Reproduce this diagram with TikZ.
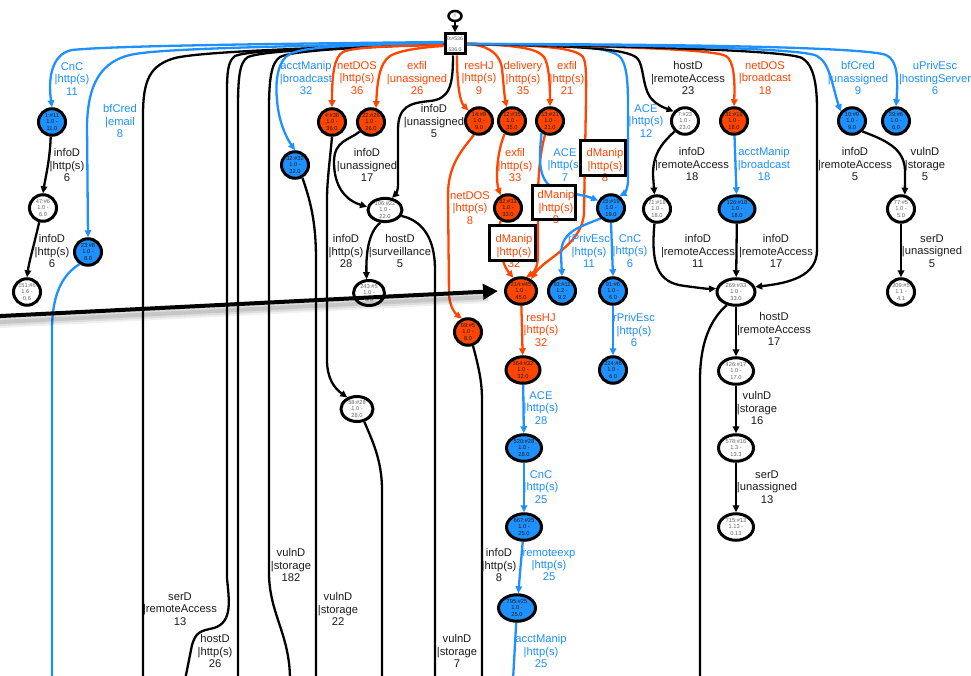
\documentclass[tikz,border=0pt]{standalone}
\usepackage{fontspec}
\setmainfont{Liberation Sans}
\usetikzlibrary{shapes.geometric,arrows.meta}
\definecolor{gvblue}{HTML}{1E90FF}
\definecolor{gvorange}{HTML}{FF4500}
\definecolor{inkdark}{HTML}{1C1C1C}
\pgfdeclarelayer{paper}
\pgfdeclarelayer{wires}
\pgfsetlayers{paper,wires,main}
\tikzset{
  gstate/.style={ellipse, draw=black, line width=3pt, inner sep=0pt,
    minimum width=27pt, minimum height=26.5pt, align=center,
    font=\fontsize{5.7}{6.2}\selectfont},
  sblue/.style={gstate, fill=gvblue, text=inkdark},
  sred/.style={gstate, fill=gvorange, text=inkdark},
  swhite/.style={gstate, fill=white, text=black!60},
  wid/.style={minimum width=#1},
  tipend/.style={-{Triangle[length=7pt,width=6.5pt]}},
  wire/.style={line width=2.3pt},
  ek/.style={wire, tipend, draw=black},
  eb/.style={wire, tipend, draw=gvblue},
  eo/.style={wire, tipend, draw=gvorange},
  ekfree/.style={wire, draw=black},
  ebfree/.style={wire, draw=gvblue},
  lab/.style={align=center, inner sep=0pt, font=\fontsize{11.2}{12.4}\selectfont},
  labk/.style={lab, text=inkdark},
  labb/.style={lab, text=gvblue},
  labo/.style={lab, text=gvorange},
  hbox/.style={fill=white, inner sep=0pt, outer sep=0pt},
}
\begin{document}
\begin{tikzpicture}[x=1pt, y=-1pt]
\useasboundingbox (0,0) rectangle (971,676);
\begin{pgfonlayer}{paper}
\fill[white] (0,0) rectangle (971,676);
\end{pgfonlayer}

% ---------- states ----------
\node[ellipse, draw, line width=2.5pt, inner sep=0pt, minimum width=13pt,
      minimum height=10pt, font=\fontsize{5}{5}\selectfont] (top) at (455,16) {!};
\node[draw, line width=3pt, fill=white, minimum width=20pt, minimum height=20pt,
      inner sep=0pt, align=center, text=black!65,
      font=\fontsize{5.2}{5.5}\selectfont] (root) at (455,44) {0:\#536\\[5pt]536.0};

\node[sblue]  (n1)   at (52,122)  {1:\#11\\1.0 -\\11.0};
\node[sred]   (n4)   at (332,122) {4:\#36\\1.0 -\\36.0};
\node[sred]   (n22)  at (371,122) {22:\#26\\1.0 -\\26.0};
\node[sred]   (n14)  at (479,121) {14:\#9\\1.0 -\\9.0};
\node[sred]   (n12)  at (512,121) {12:\#35\\1.0 -\\35.0};
\node[sred]   (n13)  at (550,121) {13:\#21\\1.0 -\\21.0};
\node[swhite] (n7)   at (685,121) {7:\#23\\1.0 -\\23.0};
\node[sred]   (n31)  at (734,121) {31:\#18\\1.0 -\\18.0};
\node[sblue]  (n10)  at (852,121) {10:\#9\\1.0 -\\9.0};
\node[sblue]  (n29)  at (896,121) {29:\#6\\1.0 -\\6.0};

\node[sblue]  (n32)  at (295,165) {32:\#32\\1.0 -\\32.0};
\node[swhite] (n47)  at (43,208)  {47:\#6\\1.0 -\\6.0};
\node[sblue]  (n23)  at (88,252)  {23:\#8\\1.0 -\\8.0};
\node[swhite] (n151) at (27,292)  {151:\#6\\1.6 -\\0.6};
\node[swhite, minimum width=34pt, minimum height=23pt] (n106) at (385,210) {106:\#22\\1.0 -\\22.0};
\node[swhite, wid=31pt, minimum height=25pt] (n243) at (369,293) {243:\#5\\1.0 -\\5.0};
\node[sred]   (n82)  at (508,208) {82:\#33\\1.0 -\\33.0};
\node[sblue]  (n15)  at (611,208) {15:\#19\\1.0 -\\19.0};
\node[swhite] (n71)  at (657,209) {71:\#18\\1.0 -\\18.0};
\node[sblue, wid=36pt] (n126) at (737,209) {126:\#18\\1.0 -\\18.0};
\node[swhite] (n77)  at (901,209) {77:\#5\\1.0 -\\5.0};

\node[sred, wid=31pt] (n214) at (521,291) {214:\#45\\1.0 -\\45.0};
\node[sblue]  (n93)  at (562,291) {93:\#11\\1.2 -\\9.2};
\node[sblue]  (n91)  at (613,291) {91:\#6\\1.0 -\\6.0};
\node[swhite, wid=38pt] (n269) at (736,292) {269:\#33\\1.0 -\\33.0};
\node[swhite] (n209) at (901,292) {209:\#5\\1.1 -\\4.1};
\node[sred]   (n69)  at (468,332) {69:\#5\\1.0 -\\8.0};
\node[sred, wid=34pt]  (n364) at (523,370) {364:\#32\\1.0 -\\32.0};
\node[sblue]  (n224) at (613,370) {224:\#6\\1.0 -\\6.0};
\node[swhite, wid=35pt] (n426) at (736,371) {426:\#17\\1.0 -\\17.0};
\node[swhite, wid=32pt, minimum height=25pt] (n58) at (357,409) {58:\#28\\1.0 -\\28.0};
\node[sblue, wid=35pt] (n520) at (524,448) {520:\#28\\1.0 -\\28.0};
\node[swhite, wid=35pt] (n578) at (736,448) {578:\#16\\1.3 -\\13.3};
\node[sblue, wid=35pt] (n667) at (524,527) {667:\#25\\1.0 -\\25.0};
\node[swhite, wid=35pt] (n715) at (736,527) {715:\#13\\1.13 -\\0.13};
\node[sblue, wid=37pt] (n795) at (517,608) {795:\#25\\1.0 -\\25.0};

% loose ends below the frame
\coordinate (b23)  at (52,680);
\coordinate (bL1)  at (143,680);
\coordinate (bL2)  at (185,680);
\coordinate (bL3)  at (238,680);
\coordinate (bL4)  at (290,680);
\coordinate (b32)  at (316,680);
\coordinate (b58)  at (382,680);
\coordinate (b106) at (435,680);
\coordinate (b69)  at (482,680);
\coordinate (b795) at (513,680);
\coordinate (b269) at (700,680);
\coordinate (ptr)  at (-3,316.2);

% ---------- transitions ----------
\begin{pgfonlayer}{wires}
\draw[ek] (top) -- (root);

% leaving the root to the left
\draw[eb] ([yshift=2pt]root.west) .. controls (250,44) and (110,46) .. (72,50)
          .. controls (51,54) and (48,80) .. (n1.north);
\draw[eb] ([yshift=1pt]root.west) .. controls (300,46) and (170,48) .. (135,54)
          .. controls (100,60) and (88,85) .. (87,125) -- (n23.north);
\draw[ekfree] (root.west) .. controls (300,48) and (200,52) .. (175,58)
          .. controls (150,65) and (143,80) .. (143,115) -- (bL1);
\draw[ekfree] (root.west) .. controls (320,48) and (250,50) .. (235,56)
          .. controls (226,62) and (227,80) .. (227,110) -- (227,578)
          .. controls (229,600) and (233,622) .. (214,628)
          .. controls (200,631) and (196,632) .. (192,645) -- (bL2);
\draw[ekfree] (root.west) .. controls (330,48) and (262,51) .. (248,57)
          .. controls (239,62) and (238,80) .. (238,110) -- (bL3);
\draw[ekfree] (root.west) .. controls (340,48) and (292,51) .. (280,57)
          .. controls (271,63) and (269,80) .. (269,110) -- (269,575)
          .. controls (270,615) and (290,635) .. (bL4);
\draw[eb] ([yshift=1pt]root.west) .. controls (360,45) and (305,46) .. (290,54)
          .. controls (278,60) and (275,80) .. (277,100)
          .. controls (279,125) and (288,140) .. (n32.north);
\draw[eo] ([yshift=-1pt]root.west) .. controls (410,46) and (355,46) .. (343,52)
          .. controls (334,57) and (332,75) .. (n4.north);
\draw[eo] ([yshift=-2pt]root.west) .. controls (425,47) and (400,50) .. (390,56)
          .. controls (379,63) and (377,85) .. (n22.70);

% leaving the root downwards
\draw[ek] ([xshift=-2pt]root.south) .. controls (453,85) and (450,99) .. (430,101)
          .. controls (410,103) and (398,106) .. (398,130) -- (398,185)
          .. controls (398,190) and (396,194) .. (n106.60);
\draw[eo] ([xshift=2pt]root.south) .. controls (457,90) and (461,103) .. (n14.135);

% leaving the root to the right
\draw[eo] (root.east) .. controls (485,45) and (499,51) .. (502,68)
          .. controls (504,90) and (505,100) .. (n12.110);
\draw[eo] (root.east) .. controls (515,45) and (537,48) .. (544,57)
          .. controls (549,64) and (550,85) .. (n13.north);
\draw[eo] (root.east) .. controls (545,45) and (576,48) .. (583,57)
          .. controls (587,63) and (586,85) .. (586,100) -- (584,212)
          .. controls (583,245) and (545,258) .. (n214.50);
\draw[eb] (root.east) .. controls (565,44) and (612,46) .. (621,58)
          .. controls (628,68) and (628,90) .. (628,110) -- (628,180)
          .. controls (628,188) and (625,193) .. (n15.55);
\draw[ek] (root.east) .. controls (585,46) and (627,49) .. (637,58)
          .. controls (644,65) and (642,85) .. (650,97)
          .. controls (656,105) and (665,108) .. (n7.140);
\draw[eo] (root.east) .. controls (610,46) and (712,49) .. (726,56)
          .. controls (734,61) and (735,80) .. (n31.north);
\draw[ek] (root.east) .. controls (630,46) and (785,50) .. (802,58)
          .. controls (814,65) and (817,85) .. (817,110) -- (817,250)
          .. controls (817,276) and (790,283) .. (n269.15);
\draw[eb] (root.east) .. controls (650,45) and (803,48) .. (817,56)
          .. controls (830,63) and (832,85) .. (n10.140);
\draw[eb] (root.east) .. controls (670,44) and (865,47) .. (886,55)
          .. controls (898,60) and (898,80) .. (n29.north);

% inner transitions
\draw[ek] (n1.265) .. controls (50,160) and (45,180) .. (n47.north);
\draw[ek] (n47.255) .. controls (34,245) and (29,262) .. (n151.north);
\draw[ebfree] (n23.235) .. controls (62,275) and (52,295) .. (52,330) -- (b23);
\draw[ek] (n22.220) .. controls (350,140) and (334,140) .. (334,162)
          .. controls (334,186) and (345,200) .. (n106.170);
\draw[ek] (n4.south) .. controls (330,160) and (327,180) .. (327,200) -- (327,360)
          .. controls (327,378) and (334,388) .. (n58.130);
\draw[ekfree] (n32.300) .. controls (310,200) and (316,220) .. (316,260) -- (b32);
\draw[ekfree] (n58.300) .. controls (372,440) and (382,460) .. (382,490) -- (b58);
\draw[ek] (n106.250) .. controls (368,232) and (366,255) .. (n243.100);
\draw[ekfree] (n106.340) .. controls (420,220) and (435,235) .. (435,270) -- (b106);
\draw[eo] (n14.250) .. controls (462,150) and (448,165) .. (448,195) -- (449,295)
          .. controls (450,308) and (456,314) .. (n69.115);
\draw[ekfree] (n69.290) .. controls (478,365) and (482,380) .. (482,400) -- (b69);
\draw[eo] (n12.240) .. controls (500,145) and (497,160) .. (497,175)
          .. controls (497,186) and (499,191) .. (n82.120);
\draw[eo] (n82.240) .. controls (497,235) and (500,262) .. (n214.120);
\draw[eo] (n13.250) .. controls (541,150) and (538,170) .. (538,200) -- (538,255)
          .. controls (538,265) and (535,272) .. (n214.70);
\draw[eb] (n13.235) .. controls (540,150) and (536,178) .. (552,187)
          .. controls (565,194) and (582,194) .. (n15.150);
\draw[eb] (n15.225) .. controls (577,228) and (561,232) .. (561,255) -- (n93.north);
\draw[eb] (n15.south) -- (n91.north);
\draw[eb] (n91) -- (n224);
\draw[eb] (n31) -- (n126);
\draw[ek] (n7.225) .. controls (660,145) and (653,155) .. (653,175) -- (n71.100);
\draw[ek] (n71.260) .. controls (651,262) and (656,283) .. (685,286)
          .. controls (700,288) and (708,289) .. (n269.170);
\draw[ek] (n126) -- (n269);
\draw[ek] (n269) -- (n426);
\draw[ekfree] (n269.235) .. controls (712,318) and (700,340) .. (700,380) -- (b269);
\draw[ek] (n426) -- (n578);
\draw[ek] (n578) -- (n715);
\draw[ek] (n10.315) .. controls (885,140) and (904,148) .. (905,170) -- (n77.75);
\draw[ek] (n77) -- (n209);
\draw[eo] (n214) -- (n364);
\draw[eb] (n364) -- (n520);
\draw[eb] (n520) -- (n667);
\draw[eb] (n667) -- (n795);
\draw[ebfree] (n795) -- (b795);
\end{pgfonlayer}

% ---------- transition labels ----------
\node[labb] (l01) at (72,79)   {CnC\\|http(s)\\11};
\node[labb] (l02) at (120,121) {bfCred\\|email\\8};
\node[labb] (l03) at (306,78)  {acctManip\\|broadcast\\32};
\node[labo] (l04) at (357,78)  {netDOS\\|http(s)\\36};
\node[labo] (l05) at (417,78)  {exfil\\|unassigned\\26};
\node[labk] (l06) at (434,121) {infoD\\|unassigned\\5};
\node[labo] (l07) at (479,78)  {resHJ\\|http(s)\\9};
\node[labo] (l08) at (523,78)  {delivery\\|http(s)\\35};
\node[labo] (l09) at (567,78)  {exfil\\|http(s)\\21};
\node[labb] (l10) at (646,121) {ACE\\|http(s)\\12};
\node[labk] (l11) at (688,78)  {hostD\\|remoteAccess\\23};
\node[labo] (l12) at (765,78)  {netDOS\\|broadcast\\18};
\node[labb] (l13) at (858,78)  {bfCred\\|unassigned\\9};
\node[labb] (l14) at (935,78)  {uPrivEsc\\|hostingServer\\6};
\node[labk] (l15) at (67,165)  {infoD\\|http(s)\\6};
\node[labk] (l16) at (52,251)  {infoD\\|http(s)\\6};
\node[labk] (l17) at (367,165) {infoD\\|unassigned\\17};
\node[labo] (l18) at (515,165) {exfil\\|http(s)\\33};
\node[labb] (l19) at (565,165) {ACE\\|http(s)\\7};
\node[labk] (l23) at (692,164) {infoD\\|remoteAccess\\18};
\node[labb] (l24) at (764,164) {acctManip\\|broadcast\\18};
\node[labk] (l25) at (855,164) {infoD\\|remoteAccess\\5};
\node[labk] (l26) at (925,164) {vulnD\\|storage\\5};
\node[labo] (l27) at (470,208) {netDOS\\|http(s)\\8};
\node[labk] (l28) at (346,251) {infoD\\|http(s)\\28};
\node[labk] (l29) at (400,251) {hostD\\|surveillance\\5};
\node[labb] (l30) at (589,251) {rPrivEsc\\|http(s)\\11};
\node[labb] (l31) at (630,251) {CnC\\|http(s)\\6};
\node[labk] (l32) at (698,251) {infoD\\|remoteAccess\\11};
\node[labk] (l33) at (776,251) {infoD\\|remoteAccess\\17};
\node[labk] (l34) at (932,251) {serD\\|unassigned\\5};
\node[labo] (l35) at (541,330) {resHJ\\|http(s)\\32};
\node[labb] (l36) at (634,330) {rPrivEsc\\|http(s)\\6};
\node[labk] (l37) at (774,329) {hostD\\|remoteAccess\\17};
\node[labb] (l38) at (541,408) {ACE\\|http(s)\\28};
\node[labk] (l39) at (757,408) {vulnD\\|storage\\16};
\node[labb] (l40) at (541,487) {CnC\\|http(s)\\25};
\node[labk] (l41) at (767,487) {serD\\|unassigned\\13};
\node[labk] (l42) at (499,565) {infoD\\|http(s)\\8};
\node[labb] (l43) at (549,565) {remoteexp\\|http(s)\\25};
\node[labk] (l46) at (291,565) {vulnD\\|storage\\182};
\node[labk] (l44) at (180,609) {serD\\|remoteAccess\\13};
\node[labk] (l47) at (338,609) {vulnD\\|storage\\22};
\node[labk] (l45) at (215,651) {hostD\\|http(s)\\26};
\node[labk] (l48) at (457,651) {vulnD\\|storage\\7};
\node[labb] (l49) at (541,651) {acctManip\\|http(s)\\25};

% ---------- highlighted dManip labels ----------
\node[hbox, minimum width=45pt, minimum height=35pt] (hb1) at (603,158) {};
\node[hbox, minimum width=43pt, minimum height=34pt] (hb2) at (554,202.5) {};
\node[hbox, minimum width=46pt, minimum height=35pt] (hb3) at (512.5,243) {};
\node[labo] (l20) at (605,165) {dManip\\|http(s)\\8};
\node[labo] (l21) at (556,207) {dManip\\|http(s)\\9};
\node[labo] (l22) at (514,251) {dManip\\|http(s)\\32};
\draw[line width=3pt] (hb1.south west) rectangle (hb1.north east);
\draw[line width=3pt] (hb2.south west) rectangle (hb2.north east);
\draw[line width=3pt] (hb3.south west) rectangle (hb3.north east);

% ---------- pointer arrow with its soft shadow ----------
\draw[line width=12pt, black, opacity=0.06] ([yshift=-6pt]ptr) -- ([xshift=-16pt,yshift=-6pt]n214.west);
\draw[line width=8pt, black, opacity=0.08] ([yshift=-6pt]ptr) -- ([xshift=-16pt,yshift=-6pt]n214.west);
\draw[line width=4pt, black, opacity=0.10] ([yshift=-6pt]ptr) -- ([xshift=-16pt,yshift=-6pt]n214.west);
\draw[line width=4pt, -{Triangle[length=15pt,width=15pt]}] (ptr) -- ([xshift=-6pt]n214.west);
\end{tikzpicture}
\end{document}
